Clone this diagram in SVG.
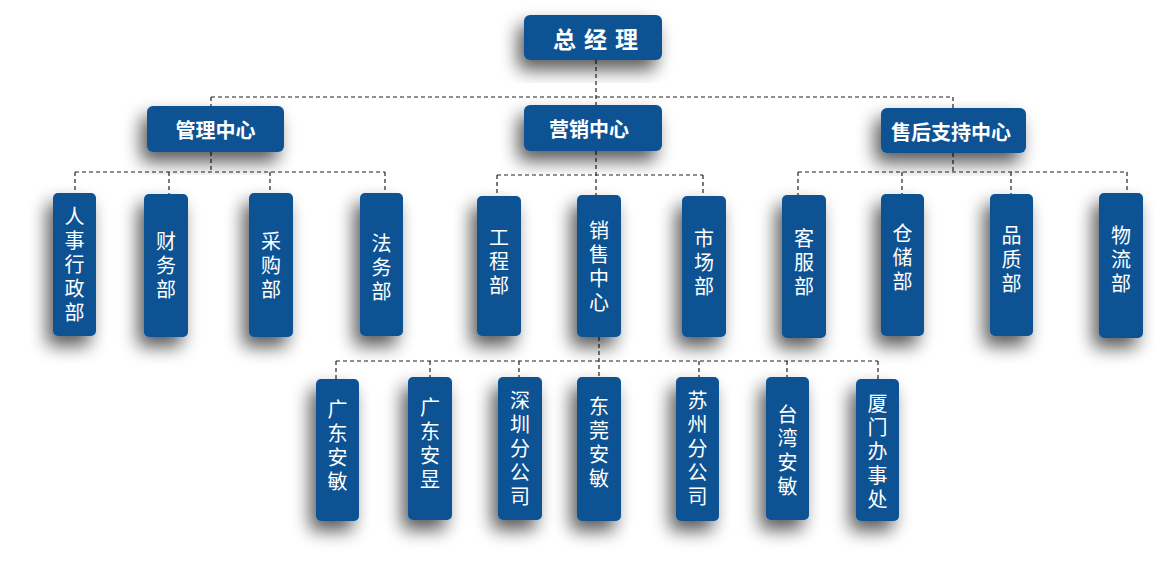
<svg xmlns="http://www.w3.org/2000/svg" width="1159" height="574" viewBox="0 0 1159 574">
<style>
.box{fill:#0E5394;filter:url(#sh);}
.hd{fill:#fff;font-family:"Noto Sans CJK SC","Noto Sans",sans-serif;font-weight:bold;font-size:20px;text-anchor:middle;dominant-baseline:central;}
.vt{fill:#fff;font-family:"Noto Sans CJK SC","Noto Sans",sans-serif;font-size:20px;text-anchor:middle;writing-mode:vertical-rl;letter-spacing:4px;}
.ln{fill:none;stroke:#222;stroke-width:1.2;stroke-dasharray:4 3;}
</style>
<defs>
<filter id="sh" x="-80%" y="-50%" width="260%" height="200%">
<feGaussianBlur in="SourceAlpha" stdDeviation="9"/>
<feOffset dx="-6" dy="10" result="b"/>
<feComponentTransfer><feFuncA type="linear" slope="0.65"/></feComponentTransfer>
<feMerge><feMergeNode/><feMergeNode in="SourceGraphic"/></feMerge>
</filter>
</defs>
<rect width="1159" height="574" fill="#fff"/>
<g id="connectors">
<path class="ln" d="M596 60V105M211 97H953M211 97V106M953 97V108"/>
<path class="ln" d="M211 152V172M75 172H385M75 172V193M169 172V194M270 172V193M385 172V193"/>
<path class="ln" d="M596 151V195M497 175H703M497 175V196M703 175V196"/>
<path class="ln" d="M953 153V172M798 172H1127M798 172V195M902 172V194M1011 172V194M1127 172V193"/>
<path class="ln" d="M599 337V377M336 361H878M336 361V379M430 361V377M519 361V377M699 361V377M787 361V377M878 361V379"/>
</g>
<g id="n-zjl"><rect class="box" x="524" y="15" width="138" height="45" rx="6"/><text class="hd" x="595.5" y="38" dx="4" style="font-size:23px;letter-spacing:8px">总经理</text></g>
<g id="n-glzx"><rect class="box" x="147" y="106" width="137" height="46" rx="6"/><text class="hd" x="215.5" y="129">管理中心</text></g>
<g id="n-yxzx"><rect class="box" x="524" y="105" width="138" height="46" rx="6"/><text class="hd" x="589" y="128">营销中心</text></g>
<g id="n-shzc"><rect class="box" x="881" y="108" width="145" height="45" rx="6"/><text class="hd" x="951" y="131">售后支持中心</text></g>

<g id="n-rs"><rect class="box" x="53" y="193" width="43" height="143" rx="5"/><text class="vt" x="74.5" y="266.5">人事行政部</text></g>
<g id="n-cw"><rect class="box" x="144" y="194" width="44" height="143" rx="5"/><text class="vt" x="166" y="267">财务部</text></g>
<g id="n-cg"><rect class="box" x="249" y="193" width="44" height="144" rx="5"/><text class="vt" x="271" y="267">采购部</text></g>
<g id="n-fw"><rect class="box" x="360" y="193" width="43" height="143" rx="5"/><text class="vt" x="381.5" y="269">法务部</text></g>

<g id="n-gc"><rect class="box" x="477" y="196" width="44" height="140" rx="5"/><text class="vt" x="499" y="263">工程部</text></g>
<g id="n-xs"><rect class="box" x="577" y="195" width="44" height="142" rx="5"/><text class="vt" x="599" y="268.5">销售中心</text></g>
<g id="n-sc"><rect class="box" x="682" y="196" width="44" height="141" rx="5"/><text class="vt" x="704" y="264">市场部</text></g>

<g id="n-kf"><rect class="box" x="782" y="195" width="44" height="143" rx="5"/><text class="vt" x="804" y="264">客服部</text></g>
<g id="n-cc"><rect class="box" x="881" y="194" width="43" height="142" rx="5"/><text class="vt" x="902.5" y="259.5">仓储部</text></g>
<g id="n-pz"><rect class="box" x="990" y="194" width="43" height="142" rx="5"/><text class="vt" x="1011.5" y="261.5">品质部</text></g>
<g id="n-wl"><rect class="box" x="1099" y="193" width="44" height="145" rx="5"/><text class="vt" x="1121" y="261">物流部</text></g>

<g id="n-gdam"><rect class="box" x="316" y="379" width="43" height="142" rx="5"/><text class="vt" x="337.5" y="447">广东安敏</text></g>
<g id="n-gday"><rect class="box" x="408" y="377" width="44" height="143" rx="5"/><text class="vt" x="430" y="445">广东安昱</text></g>
<g id="n-sz"><rect class="box" x="498" y="377" width="44" height="143" rx="5"/><text class="vt" x="520" y="450.5">深圳分公司</text></g>
<g id="n-dg"><rect class="box" x="577" y="377" width="44" height="144" rx="5"/><text class="vt" x="599" y="444">东莞安敏</text></g>
<g id="n-szh"><rect class="box" x="676" y="377" width="43" height="144" rx="5"/><text class="vt" x="697.5" y="450.5">苏州分公司</text></g>
<g id="n-tw"><rect class="box" x="766" y="377" width="43" height="143" rx="5"/><text class="vt" x="787.5" y="452">台湾安敏</text></g>
<g id="n-xm"><rect class="box" x="856" y="379" width="43" height="142" rx="5"/><text class="vt" x="877.5" y="453.5">厦门办事处</text></g>
</svg>
